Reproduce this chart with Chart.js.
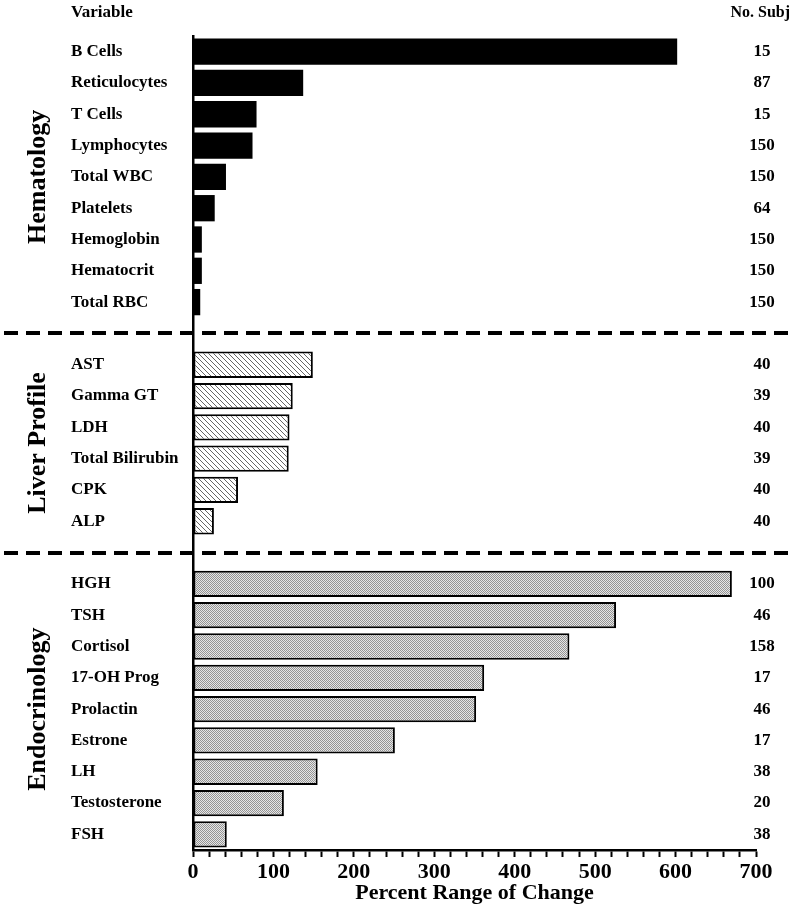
<!DOCTYPE html>
<html>
<head>
<meta charset="utf-8">
<script src="https://cdn.jsdelivr.net/npm/chart.js@4"></script>
<style>
  html, body { margin: 0; padding: 0; background: #fff; }
  #wrap { width: 793px; height: 910px; }
</style>
</head>
<body>
<div id="wrap"><canvas id="chart" width="793" height="910"></canvas></div>
<script>
// data
const hemaLabels = ['B Cells', 'Reticulocytes', 'T Cells', 'Lymphocytes', 'Total WBC', 'Platelets', 'Hemoglobin', 'Hematocrit', 'Total RBC'];
const hemaValues = [602, 137, 79, 74, 41, 27, 11, 11, 9];
const hemaSubj = [15, 87, 15, 150, 150, 64, 150, 150, 150];

const liverLabels = ['AST', 'Gamma GT', 'LDH', 'Total Bilirubin', 'CPK', 'ALP'];
const liverValues = [149, 124, 120, 119, 56, 26];
const liverSubj = [40, 39, 40, 39, 40, 40];

const endoLabels = ['HGH', 'TSH', 'Cortisol', '17-OH Prog', 'Prolactin', 'Estrone', 'LH', 'Testosterone', 'FSH'];
const endoValues = [670, 526, 468, 362, 352, 251, 155, 113, 42];
const endoSubj = [100, 46, 158, 17, 46, 17, 38, 20, 38];

const groupNames = ['Hematology', 'Liver Profile', 'Endocrinology'];
const xTicks = [0, 100, 200, 300, 400, 500, 600, 700];

const SERIF = '"Liberation Serif", "Times New Roman", serif';

// fill patterns
function makeHatch() {
  const c = document.createElement('canvas');
  c.width = 5; c.height = 5;
  const g = c.getContext('2d');
  g.fillStyle = '#fff';
  g.fillRect(0, 0, 5, 5);
  g.strokeStyle = '#666';
  g.lineWidth = 1;
  g.beginPath();
  g.moveTo(-1, -1); g.lineTo(6, 6);
  g.moveTo(-3.5, 1.5); g.lineTo(3.5, 8.5);
  g.moveTo(1.5, -3.5); g.lineTo(8.5, 3.5);
  g.stroke();
  return g.createPattern(c, 'repeat');
}

function makeStipple() {
  const c = document.createElement('canvas');
  c.width = 2; c.height = 2;
  const g = c.getContext('2d');
  g.fillStyle = '#e6e6e6';
  g.fillRect(0, 0, 2, 2);
  g.fillStyle = '#949494';
  g.fillRect(0, 0, 1, 1);
  g.fillRect(1, 1, 1, 1);
  return g.createPattern(c, 'repeat');
}

const hatch = makeHatch();
const stipple = makeStipple();

// build the 26 rows (two empty rows hold the dashed separators)
const groups = [
  { labels: hemaLabels, values: hemaValues, subj: hemaSubj, fill: '#000', border: 0 },
  { labels: liverLabels, values: liverValues, subj: liverSubj, fill: hatch, border: 2 },
  { labels: endoLabels, values: endoValues, subj: endoSubj, fill: stipple, border: 2 }
];

const labels = [];
const values = [];
const subj = [];
const fills = [];
const borders = [];
const gapRows = [];
const groupRows = [];

groups.forEach((grp, gi) => {
  if (gi > 0) {
    gapRows.push(labels.length);
    labels.push('');
    values.push(null);
    subj.push('');
    fills.push('#fff');
    borders.push(0);
  }
  const start = labels.length;
  grp.labels.forEach((lab, i) => {
    labels.push(lab);
    values.push(grp.values[i]);
    subj.push(String(grp.subj[i]));
    fills.push(grp.fill);
    borders.push(grp.border);
  });
  groupRows.push([start, labels.length - 1]);
});

const extrasPlugin = {
  id: 'extras',
  afterDraw(chart) {
    const { ctx, chartArea, scales } = chart;
    const y = scales.y;
    ctx.save();

    // dashed separators
    ctx.strokeStyle = '#000';
    ctx.lineWidth = 4;
    ctx.setLineDash([14, 8]);
    gapRows.forEach(r => {
      const py = Math.round(y.getPixelForValue(r));
      ctx.beginPath();
      ctx.moveTo(4, py);
      ctx.lineTo(chart.width, py);
      ctx.stroke();
    });
    ctx.setLineDash([]);

    // headers
    ctx.fillStyle = '#000';
    ctx.font = 'bold 17px ' + SERIF;
    ctx.textBaseline = 'middle';
    ctx.textAlign = 'left';
    ctx.fillText('Variable', 71, 13);
    ctx.textAlign = 'right';
    ctx.font = 'bold 16px ' + SERIF;
    ctx.fillText('No. Subj', 790, 13);

    // subject counts
    ctx.font = 'bold 17px ' + SERIF;
    ctx.textAlign = 'center';
    subj.forEach((s, i) => {
      if (!s) return;
      ctx.fillText(s, chartArea.right + 6, y.getPixelForValue(i));
    });

    // group names, rotated
    ctx.font = 'bold 26px ' + SERIF;
    groupRows.forEach((rows, gi) => {
      const cy = (y.getPixelForValue(rows[0]) + y.getPixelForValue(rows[1])) / 2;
      ctx.save();
      ctx.translate(38, cy);
      ctx.rotate(-Math.PI / 2);
      ctx.textAlign = 'center';
      ctx.fillText(groupNames[gi], 0, 0);
      ctx.restore();
    });

    ctx.restore();
  }
};

const chart = new Chart(document.getElementById('chart').getContext('2d'), {
  type: 'bar',
  data: {
    labels,
    datasets: [{
      data: values,
      backgroundColor: fills,
      borderColor: '#000',
      borderWidth: borders,
      borderSkipped: false,
      barPercentage: 0.84,
      categoryPercentage: 1
    }]
  },
  options: {
    indexAxis: 'y',
    responsive: false,
    devicePixelRatio: 1,
    animation: false,
    layout: { padding: { left: 71, top: 36, right: 37, bottom: 0 } },
    plugins: {
      legend: { display: false },
      tooltip: { enabled: false }
    },
    scales: {
      y: {
        position: 'left',
        afterFit(scale) { scale.width = 122; },
        grid: { display: true, drawOnChartArea: false, drawTicks: false },
        border: { display: true, color: '#000', width: 2.5 },
        ticks: {
          crossAlign: 'far',
          autoSkip: false,
          color: '#000',
          font: { family: SERIF, size: 17, weight: 'bold' }
        }
      },
      x: {
        min: 0,
        max: 700,
        afterFit(scale) { scale.height = 60; },
        afterBuildTicks(scale) {
          // minor ticks every 20, labels only on the major ones
          const t = [];
          for (let v = xTicks[0]; v <= xTicks[xTicks.length - 1]; v += 20) t.push({ value: v });
          scale.ticks = t;
        },
        grid: { drawOnChartArea: false, drawTicks: true, tickLength: 7, tickWidth: 2, tickColor: '#000' },
        border: { display: true, color: '#000', width: 2.5 },
        ticks: {
          autoSkip: false,
          maxRotation: 0,
          padding: 2,
          color: '#000',
          font: { family: SERIF, size: 22, weight: 'bold' },
          callback: v => (xTicks.includes(v) ? String(v) : '')
        },
        title: {
          display: true,
          text: 'Percent Range of Change',
          color: '#000',
          font: { family: SERIF, size: 22, weight: 'bold' },
          padding: { top: 0, bottom: 3 }
        }
      }
    }
  },
  plugins: [extrasPlugin]
});
</script>
</body>
</html>
